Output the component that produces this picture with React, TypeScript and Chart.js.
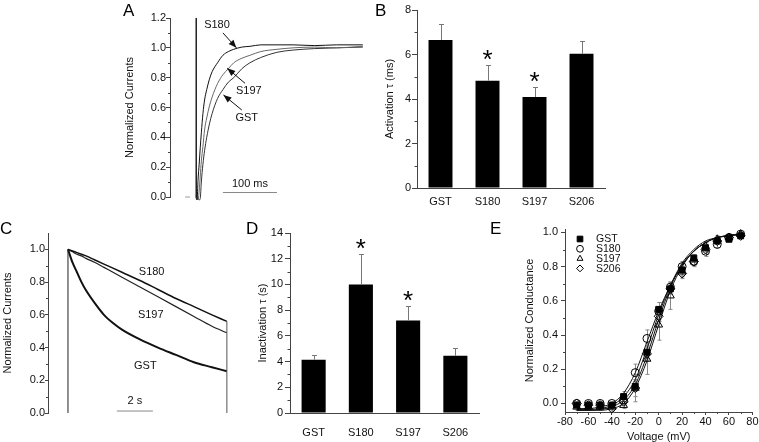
import React, { useEffect, useRef } from 'react';
import { Chart, registerables } from 'chart.js';

Chart.register(...registerables);

const FONT = "'Liberation Sans', Arial, Helvetica, sans-serif";
const INK = '#111';
const AXIS = '#444';
Chart.defaults.font.family = FONT;
Chart.defaults.color = INK;

// ---------------- Panel A: activation traces (time in ms, normalized current)
const actTimeMs = [0, 2, 4, 6, 8, 10, 13, 16, 20, 25, 30, 40, 50, 60, 70, 85, 100, 120, 150, 180, 220, 260, 309];
const actS180 = [0, -0.02, 0.12, 0.22, 0.33, 0.43, 0.56, 0.65, 0.72, 0.79, 0.84, 0.9, 0.95, 0.975, 0.99, 1.005, 1.01, 1.02, 1.02, 1.02, 1.015, 1.02, 1.02];
const actS197 = [0, -0.01, -0.02, 0.04, 0.14, 0.24, 0.34, 0.45, 0.53, 0.61, 0.67, 0.76, 0.82, 0.86, 0.9, 0.93, 0.95, 0.975, 0.99, 1.0, 1.005, 1.0, 1.01];
const actGST = [0, 0.0, -0.01, -0.02, -0.01, 0.1, 0.22, 0.31, 0.4, 0.49, 0.56, 0.66, 0.72, 0.77, 0.8, 0.86, 0.9, 0.935, 0.97, 0.985, 0.995, 1.0, 1.005];
const actTicks = [0, 0.2, 0.4, 0.6, 0.8, 1.0, 1.2];
const actMinor = [0.1, 0.3, 0.5, 0.7, 0.9, 1.1];

// ---------------- Panel B: activation tau
const groups = ['GST', 'S180', 'S197', 'S206'];
const actTau = [6.65, 4.82, 4.09, 6.03];
const actTauErr = [0.7, 0.71, 0.47, 0.57];
const actSig = [false, true, true, false];
const actTauTicks = [0, 2, 4, 6, 8];
const actTauMinor = [1, 3, 5, 7];

// ---------------- Panel C: inactivation traces (time in s)
const inactTimeS = [0, 0.25, 0.5, 0.75, 1, 1.5, 2, 2.5, 3, 4, 5, 6, 7, 8, 8.83];
const inactS180 = [1.0, 0.99, 0.98, 0.97, 0.96, 0.935, 0.91, 0.885, 0.86, 0.81, 0.755, 0.7, 0.65, 0.6, 0.56];
const inactS197 = [1.0, 0.985, 0.97, 0.96, 0.945, 0.92, 0.89, 0.86, 0.83, 0.77, 0.71, 0.65, 0.59, 0.53, 0.49];
const inactGST = [1.0, 0.92, 0.86, 0.8, 0.75, 0.67, 0.6, 0.55, 0.51, 0.45, 0.4, 0.355, 0.31, 0.28, 0.255];
const inactTicks = [0, 0.2, 0.4, 0.6, 0.8, 1.0];
const inactMinor = [0.1, 0.3, 0.5, 0.7, 0.9];

// ---------------- Panel D: inactivation tau
const inactTau = [4.15, 10.0, 7.2, 4.45];
const inactTauErr = [0.35, 2.36, 1.16, 0.6];
const inactSig = [false, true, true, false];
const inactTauTicks = [0, 2, 4, 6, 8, 10, 12, 14];
const inactTauMinor = [1, 3, 5, 7, 9, 11, 13];

// ---------------- Panel E: conductance-voltage
const voltages = [-70, -60, -50, -40, -30, -20, -10, 0, 10, 20, 30, 40, 50, 60, 70];
const gGST = [-0.01, -0.01, -0.01, -0.01, 0.04, 0.1, 0.3, 0.55, 0.67, 0.78, 0.85, 0.91, 0.95, 0.96, 0.98];
const gS180 = [0.0, 0.0, 0.0, 0.0, 0.02, 0.18, 0.38, 0.54, 0.68, 0.8, 0.83, 0.89, 0.93, 0.97, 0.99];
const gS197 = [-0.02, -0.02, -0.02, -0.02, -0.01, 0.09, 0.26, 0.46, 0.63, 0.77, 0.84, 0.92, 0.96, 0.97, 0.99];
const gS206 = [0.0, -0.01, -0.01, -0.03, 0.01, 0.09, 0.29, 0.51, 0.67, 0.76, 0.83, 0.9, 0.95, 0.97, 0.98];
const eGST = [0.01, 0.01, 0.01, 0.01, 0.03, 0.03, 0.04, 0.04, 0.03, 0.03, 0.02, 0.02, 0.02, 0.01, 0.01];
const eS180 = [0.01, 0.01, 0.01, 0.01, 0.02, 0.05, 0.05, 0.05, 0.03, 0.03, 0.03, 0.03, 0.02, 0.02, 0.01];
const eS197 = [0.02, 0.02, 0.02, 0.02, 0.02, 0.08, 0.09, 0.09, 0.08, 0.03, 0.03, 0.02, 0.02, 0.02, 0.01];
const eS206 = [0.01, 0.01, 0.01, 0.02, 0.02, 0.05, 0.04, 0.03, 0.03, 0.03, 0.02, 0.02, 0.02, 0.01, 0.01];
const fitS180 = [-0.03, -0.03, -0.02, 0.0, 0.06, 0.18, 0.36, 0.54, 0.69, 0.81, 0.89, 0.94, 0.97, 0.98, 0.99];
const fitGST = [-0.035, -0.035, -0.03, -0.01, 0.04, 0.14, 0.32, 0.52, 0.69, 0.82, 0.9, 0.95, 0.97, 0.985, 0.99];
const fitS206 = [-0.04, -0.04, -0.035, -0.02, 0.02, 0.11, 0.28, 0.49, 0.68, 0.81, 0.89, 0.94, 0.97, 0.98, 0.99];
const fitS197 = [-0.04, -0.04, -0.04, -0.03, 0.0, 0.09, 0.25, 0.46, 0.66, 0.8, 0.89, 0.94, 0.97, 0.98, 0.99];
const condTicks = [0, 0.2, 0.4, 0.6, 0.8, 1.0];
const condMinor = [0.1, 0.3, 0.5, 0.7, 0.9];
const voltTicks = [-80, -60, -40, -20, 0, 20, 40, 60, 80];
const voltMinor = [-70, -50, -30, -10, 10, 30, 50, 70];
const condNames = ['GST', 'S180', 'S197', 'S206'];

// ---------------- annotation layouts (data coordinates)
type Seg = { a: [number, number]; b: [number, number]; color?: string; width?: number; arrow?: boolean };
type Lbl = { text: string; at: [number, number] };

const actLabels: Lbl[] = [
  { text: 'S180', at: [39, 1.153] },
  { text: 'S197', at: [98, 0.712] },
  { text: 'GST', at: [94, 0.527] },
  { text: '100 ms', at: [100, 0.087] },
];
const actSegs: Seg[] = [
  { a: [0.5, 0], b: [0.5, 1.2], color: '#000', width: 1.3 },
  { a: [-20, 0], b: [-11, 0], color: '#999' },
  { a: [50, 0.03], b: [150, 0.03], color: '#888' },
  { a: [50, 1.1], b: [75, 1.0], arrow: true },
  { a: [91, 0.762], b: [58, 0.863], arrow: true },
  { a: [85, 0.583], b: [51, 0.684], arrow: true },
];
const inactLabels: Lbl[] = [
  { text: 'S180', at: [4.65, 0.86] },
  { text: 'S197', at: [4.6, 0.6] },
  { text: 'GST', at: [4.3, 0.29] },
  { text: '2 s', at: [3.72, 0.073] },
];
const inactSegs: Seg[] = [
  { a: [0, 0], b: [0, 1.0], color: '#222' },
  { a: [8.83, 0], b: [8.83, 0.56], color: '#555' },
  { a: [2.72, 0.012], b: [4.72, 0.012], color: '#888' },
];

// ---------------- helpers
const pts = (xs: number[], ys: number[]) => xs.map((x, i) => ({ x, y: ys[i] }));

function baseOptions(padding: any) {
  return {
    responsive: false,
    animation: false as const,
    devicePixelRatio: 1,
    events: [] as any[],
    layout: { padding },
    plugins: { legend: { display: false }, tooltip: { enabled: false } },
  };
}

function yAxis(o: { min: number; max: number; ticks: number[]; width: number; title: string; digits: number; tickLen: number; pad: number }) {
  return {
    type: 'linear' as const,
    position: 'left' as const,
    min: o.min,
    max: o.max,
    afterBuildTicks: (s: any) => { s.ticks = o.ticks.map((v) => ({ value: v })); },
    afterFit: (s: any) => { s.width = o.width; },
    grid: { drawOnChartArea: false, drawTicks: true, tickLength: o.tickLen, tickColor: AXIS, color: AXIS, lineWidth: 1 },
    border: { display: true, color: AXIS, width: 1 },
    ticks: { padding: o.pad, color: INK, font: { family: FONT, size: 11 }, callback: (v: any) => Number(v).toFixed(o.digits) },
    title: { display: true, text: o.title, color: INK, font: { family: FONT, size: 11 }, padding: 0 },
  };
}

function catAxis(height: number, pad: number) {
  return {
    type: 'category' as const,
    afterFit: (s: any) => { s.height = height; },
    grid: { drawOnChartArea: false, drawTicks: false, color: AXIS },
    border: { display: true, color: AXIS, width: 1 },
    ticks: { padding: pad, color: INK, font: { family: FONT, size: 11 } },
  };
}

function minorPlugin(axes: { id: string; values: number[]; len: number }[]) {
  return {
    id: 'minorTicks',
    afterDraw(chart: any) {
      const ctx = chart.ctx;
      ctx.save();
      ctx.strokeStyle = AXIS;
      ctx.lineWidth = 1;
      for (const a of axes) {
        const s = chart.scales[a.id];
        ctx.beginPath();
        for (const v of a.values) {
          if (s.isHorizontal()) {
            const x = Math.round(s.getPixelForValue(v)) + 0.5;
            const y = s.top;
            ctx.moveTo(x, y);
            ctx.lineTo(x, y + a.len);
          } else {
            const y = Math.round(s.getPixelForValue(v)) + 0.5;
            const x = s.right;
            ctx.moveTo(x - a.len, y);
            ctx.lineTo(x, y);
          }
        }
        ctx.stroke();
      }
      ctx.restore();
    },
  };
}

function annotPlugin(segs: Seg[], lbls: Lbl[]) {
  return {
    id: 'annot',
    afterDatasetsDraw(chart: any) {
      const ctx = chart.ctx;
      const xs = chart.scales.x;
      const ys = chart.scales.y;
      ctx.save();
      for (const s of segs) {
        const x1 = xs.getPixelForValue(s.a[0]);
        const y1 = ys.getPixelForValue(s.a[1]);
        const x2 = xs.getPixelForValue(s.b[0]);
        const y2 = ys.getPixelForValue(s.b[1]);
        const col = s.color || INK;
        ctx.strokeStyle = col;
        ctx.fillStyle = col;
        ctx.lineWidth = s.width || 1;
        ctx.beginPath();
        ctx.moveTo(x1, y1);
        ctx.lineTo(x2, y2);
        ctx.stroke();
        if (s.arrow) {
          const ang = Math.atan2(y2 - y1, x2 - x1);
          const L = 8;
          const W = 3.2;
          const bx = x2 - L * Math.cos(ang);
          const by = y2 - L * Math.sin(ang);
          ctx.beginPath();
          ctx.moveTo(x2, y2);
          ctx.lineTo(bx + W * Math.sin(ang), by - W * Math.cos(ang));
          ctx.lineTo(bx - W * Math.sin(ang), by + W * Math.cos(ang));
          ctx.closePath();
          ctx.fill();
        }
      }
      ctx.fillStyle = INK;
      ctx.textAlign = 'center';
      ctx.textBaseline = 'middle';
      ctx.font = `11px ${FONT}`;
      for (const l of lbls) {
        ctx.fillText(l.text, xs.getPixelForValue(l.at[0]), ys.getPixelForValue(l.at[1]));
      }
      ctx.restore();
    },
  };
}

function barExtras(errs: number[], sig: boolean[]) {
  return {
    id: 'barExtras',
    afterDatasetsDraw(chart: any) {
      const ctx = chart.ctx;
      const meta = chart.getDatasetMeta(0);
      const ys = chart.scales.y;
      const data = chart.data.datasets[0].data as number[];
      ctx.save();
      ctx.strokeStyle = '#777';
      ctx.lineWidth = 1;
      meta.data.forEach((el: any, i: number) => {
        const x = Math.round(el.x) + 0.5;
        const yt = Math.round(ys.getPixelForValue(data[i] + errs[i])) + 0.5;
        ctx.beginPath();
        ctx.moveTo(x, el.y);
        ctx.lineTo(x, yt);
        ctx.moveTo(x - 2.5, yt);
        ctx.lineTo(x + 2.5, yt);
        ctx.stroke();
        if (sig[i]) {
          ctx.fillStyle = '#000';
          ctx.font = `26px ${FONT}`;
          ctx.textAlign = 'center';
          ctx.textBaseline = 'alphabetic';
          const m = ctx.measureText('*');
          const cy = yt - 11;
          ctx.fillText('*', el.x, cy + (m.actualBoundingBoxAscent - m.actualBoundingBoxDescent) / 2);
        }
      });
      ctx.restore();
    },
  };
}

const condVals = [gGST, gS180, gS197, gS206];
const condErrs = [eGST, eS180, eS197, eS206];
const condStyles = [
  { style: 'rect', fill: '#000', r: 4.2 },
  { style: 'circle', fill: 'rgba(255,255,255,0)', r: 4 },
  { style: 'triangle', fill: 'rgba(255,255,255,0)', r: 4.5 },
  { style: 'rectRot', fill: 'rgba(255,255,255,0)', r: 4.5 },
];

const condErrPlugin = {
  id: 'condErr',
  beforeDatasetsDraw(chart: any) {
    const ctx = chart.ctx;
    const xs = chart.scales.x;
    const ys = chart.scales.y;
    ctx.save();
    ctx.strokeStyle = '#888';
    ctx.lineWidth = 1;
    ctx.beginPath();
    condVals.forEach((vals, s) => {
      vals.forEach((v, i) => {
        const e = condErrs[s][i];
        const x = Math.round(xs.getPixelForValue(voltages[i])) + 0.5;
        const y1 = ys.getPixelForValue(v - e);
        const y2 = ys.getPixelForValue(v + e);
        ctx.moveTo(x, y1);
        ctx.lineTo(x, y2);
        ctx.moveTo(x - 2, y1);
        ctx.lineTo(x + 2, y1);
        ctx.moveTo(x - 2, y2);
        ctx.lineTo(x + 2, y2);
      });
    });
    ctx.stroke();
    ctx.restore();
  },
};

function drawMarker(ctx: CanvasRenderingContext2D, style: string, x: number, y: number, r: number, fill: string) {
  ctx.beginPath();
  if (style === 'rect') {
    const s = r * Math.SQRT1_2;
    ctx.rect(x - s, y - s, 2 * s, 2 * s);
  } else if (style === 'circle') {
    ctx.arc(x, y, r, 0, Math.PI * 2);
  } else if (style === 'triangle') {
    const h = r * 1.5;
    const hw = (r * Math.sqrt(3)) / 2;
    ctx.moveTo(x, y - r);
    ctx.lineTo(x + hw, y + h - r);
    ctx.lineTo(x - hw, y + h - r);
    ctx.closePath();
  } else {
    ctx.moveTo(x, y - r);
    ctx.lineTo(x + r, y);
    ctx.lineTo(x, y + r);
    ctx.lineTo(x - r, y);
    ctx.closePath();
  }
  ctx.fillStyle = fill;
  ctx.fill();
  ctx.stroke();
}

const condLegendPlugin = {
  id: 'condLegend',
  afterDraw(chart: any) {
    const ctx = chart.ctx;
    const { left, top } = chart.chartArea;
    ctx.save();
    ctx.strokeStyle = '#000';
    ctx.lineWidth = 1;
    ctx.font = `10.5px ${FONT}`;
    ctx.textAlign = 'left';
    ctx.textBaseline = 'middle';
    condNames.forEach((name, i) => {
      const y = top + 10 + i * 9.8;
      const st = condStyles[i];
      drawMarker(ctx, st.style, left + 15, y, st.style === 'rect' ? 4 : 3.4, st.fill);
      ctx.fillStyle = INK;
      ctx.fillText(name, left + 31, y + 0.5);
    });
    ctx.restore();
  },
};

function traceLine(xs: number[], ys: number[], color: string, width: number) {
  return {
    data: pts(xs, ys),
    borderColor: color,
    borderWidth: width,
    pointRadius: 0,
    cubicInterpolationMode: 'monotone' as const,
    clip: false as any,
  };
}

// ---------------- chart builders
const makeA = (cv: HTMLCanvasElement) =>
  new Chart(cv, {
    type: 'line',
    data: {
      datasets: [
        traceLine(actTimeMs, actS180, '#111', 1),
        traceLine(actTimeMs, actS197, '#666', 1),
        traceLine(actTimeMs, actGST, '#333', 1),
      ],
    },
    options: {
      ...baseOptions({ left: 23.4, right: 10, top: 18, bottom: 18 }),
      scales: {
        x: { type: 'linear', display: false, min: -48, max: 313 },
        y: yAxis({ min: 0, max: 1.2, ticks: actTicks, width: 46.6, title: 'Normalized Currents', digits: 1, tickLen: 4, pad: 0 }),
      },
    } as any,
    plugins: [minorPlugin([{ id: 'y', values: actMinor, len: 2 }]), annotPlugin(actSegs, actLabels)],
  });

const makeBars = (vals: number[], errs: number[], sig: boolean[], o: any) => (cv: HTMLCanvasElement) =>
  new Chart(cv, {
    type: 'bar',
    data: {
      labels: groups,
      datasets: [{ data: vals, backgroundColor: '#000', borderWidth: 0, categoryPercentage: 1, barPercentage: 0.51 }],
    },
    options: {
      ...baseOptions(o.padding),
      scales: {
        x: catAxis(o.xH, o.labelPad),
        y: yAxis({ min: 0, max: o.max, ticks: o.ticks, width: 33.6, title: o.title, digits: 0, tickLen: 5, pad: o.tickPad }),
      },
    } as any,
    plugins: [minorPlugin([{ id: 'y', values: o.minor, len: 2.5 }]), barExtras(errs, sig)],
  });

const makeB = makeBars(actTau, actTauErr, actSig, {
  padding: { left: 23.4, right: 15, top: 10, bottom: 0 },
  xH: 27,
  labelPad: 7.4,
  max: 8,
  ticks: actTauTicks,
  minor: actTauMinor,
  title: 'Activation τ (ms)',
  tickPad: 1,
});

const makeD = makeBars(inactTau, inactTauErr, inactSig, {
  padding: { left: 16.4, right: 11, top: 18, bottom: 0 },
  xH: 29,
  labelPad: 13.4,
  max: 14,
  ticks: inactTauTicks,
  minor: inactTauMinor,
  title: 'Inactivation τ (s)',
  tickPad: 2,
});

const makeC = (cv: HTMLCanvasElement) =>
  new Chart(cv, {
    type: 'line',
    data: {
      datasets: [
        traceLine(inactTimeS, inactS180, '#111', 1.5),
        traceLine(inactTimeS, inactS197, '#222', 1.2),
        traceLine(inactTimeS, inactGST, '#111', 2),
      ],
    },
    options: {
      ...baseOptions({ left: 1.4, right: 10, top: 18, bottom: 17 }),
      scales: {
        x: { type: 'linear', display: false, min: -1.11, max: 9.56 },
        y: yAxis({ min: 0, max: 1.1, ticks: inactTicks, width: 46.6, title: 'Normalized Currents', digits: 1, tickLen: 3, pad: 0 }),
      },
    } as any,
    plugins: [minorPlugin([{ id: 'y', values: inactMinor, len: 2 }]), annotPlugin(inactSegs, inactLabels)],
  });

const makeE = (cv: HTMLCanvasElement) =>
  new Chart(cv, {
    type: 'line',
    data: {
      datasets: [
        ...condVals.map((vals, i) => ({
          data: pts(voltages, vals),
          showLine: false,
          pointStyle: condStyles[i].style,
          pointRadius: condStyles[i].r,
          pointBackgroundColor: condStyles[i].fill,
          pointBorderColor: '#000',
          pointBorderWidth: 1,
          clip: false as any,
        })),
        ...[fitS180, fitGST, fitS206, fitS197].map((f) => ({
          data: pts(voltages, f),
          borderColor: '#111',
          borderWidth: 1,
          pointRadius: 0,
          cubicInterpolationMode: 'monotone' as const,
        })),
      ],
    },
    options: {
      ...baseOptions({ left: 23.4, right: 6, top: 14, bottom: 0 }),
      scales: {
        x: {
          type: 'linear',
          min: -80,
          max: 80,
          afterBuildTicks: (s: any) => { s.ticks = voltTicks.map((v) => ({ value: v })); },
          afterFit: (s: any) => { s.height = 30; },
          grid: { drawOnChartArea: false, drawTicks: true, tickLength: 3, tickColor: AXIS, color: AXIS },
          border: { display: true, color: AXIS, width: 1 },
          ticks: { padding: 0.5, color: INK, font: { family: FONT, size: 11 }, callback: (v: any) => String(v) },
          title: { display: true, text: 'Voltage (mV)', color: INK, font: { family: FONT, size: 11, lineHeight: 1 }, padding: 0 },
        },
        y: yAxis({ min: -0.05, max: 1.02, ticks: condTicks, width: 41.6, title: 'Normalized Conductance', digits: 1, tickLen: 4, pad: 3 }),
      },
    } as any,
    plugins: [
      condErrPlugin,
      minorPlugin([{ id: 'y', values: condMinor, len: 2 }, { id: 'x', values: voltMinor, len: 2 }]),
      condLegendPlugin,
    ],
  });

type Box = { left: number; top: number; width: number; height: number };

function ChartBox({ box, make }: { box: Box; make: (cv: HTMLCanvasElement) => Chart }) {
  const ref = useRef<HTMLCanvasElement | null>(null);
  useEffect(() => {
    const c = make(ref.current as HTMLCanvasElement);
    return () => c.destroy();
  }, []);
  return (
    <canvas
      ref={ref}
      width={box.width}
      height={box.height}
      style={{ position: 'absolute', left: box.left, top: box.top, width: box.width, height: box.height }}
    />
  );
}

const letterStyle = (left: number, top: number): React.CSSProperties => ({
  position: 'absolute',
  left,
  top,
  fontFamily: FONT,
  fontSize: 17,
  lineHeight: '17px',
  color: '#000',
});

export default function App() {
  return (
    <div style={{ position: 'fixed', left: 0, top: 0, width: 759, height: 442, background: '#fff', overflow: 'hidden' }}>
      <ChartBox box={{ left: 100, top: 0, width: 275, height: 215 }} make={makeA} />
      <ChartBox box={{ left: 360, top: 0, width: 260, height: 215 }} make={makeB} />
      <ChartBox box={{ left: 0, top: 215, width: 250, height: 215 }} make={makeC} />
      <ChartBox box={{ left: 240, top: 215, width: 250, height: 227 }} make={makeD} />
      <ChartBox box={{ left: 500, top: 215, width: 259, height: 227 }} make={makeE} />
      <div style={letterStyle(123, 2)}>A</div>
      <div style={letterStyle(375, 2)}>B</div>
      <div style={letterStyle(0, 220)}>C</div>
      <div style={letterStyle(246, 220)}>D</div>
      <div style={letterStyle(490, 220)}>E</div>
    </div>
  );
}
